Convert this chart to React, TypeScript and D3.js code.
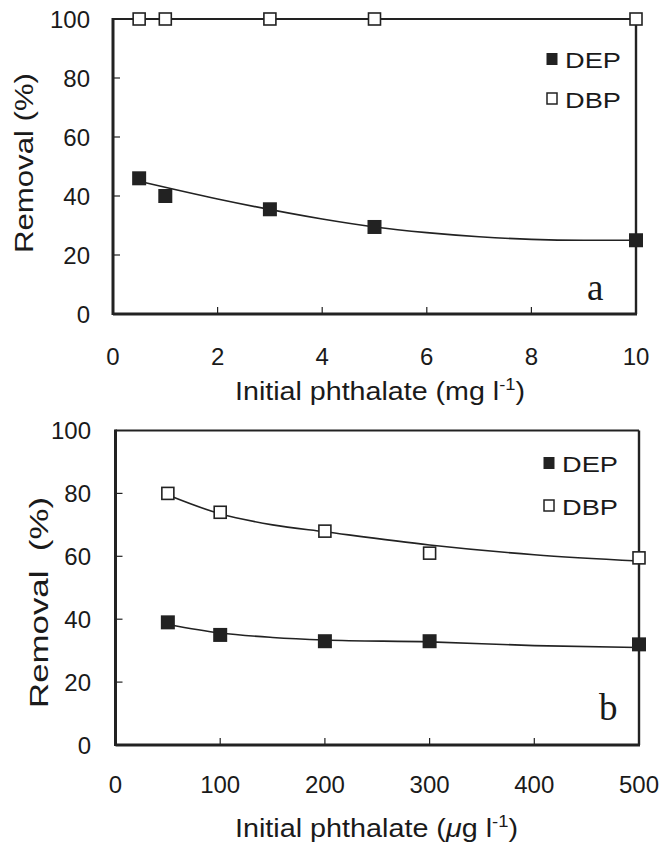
import React from "react";
import * as d3 from "d3";

// Panel a data (mg/l)
const concA = [0.5, 1, 3, 5, 10];
const depA = [46, 40, 35.5, 29.5, 25];
const dbpA = [100, 100, 100, 100, 100];
const depFitA: [number, number][] = [[0.5, 45], [2, 39], [4, 32.2], [5, 29.5], [6, 27.6], [7, 26.2], [8, 25.3], [9, 25], [10, 25]];
const dbpFitA: [number, number][] = [[0.5, 100], [10, 100]];
const xTicksA = [0, 2, 4, 6, 8, 10];

// Panel b data (ug/l)
const concB = [50, 100, 200, 300, 500];
const depB = [39, 35, 33, 33, 32];
const dbpB = [80, 74, 68, 61, 59.5];
const depFitB: [number, number][] = [[50, 38.3], [100, 35.6], [150, 34.2], [200, 33.4], [300, 32.8], [400, 31.6], [500, 31]];
const dbpFitB: [number, number][] = [[50, 79.5], [100, 73.5], [150, 70], [200, 67.8], [300, 63.6], [400, 60.5], [500, 58.5]];
const xTicksB = [0, 100, 200, 300, 400, 500];

const yTicks = [0, 20, 40, 60, 80, 100];
const seriesNames = ["DEP", "DBP"];

const SANS = "'Liberation Sans', Arial, sans-serif";
const SERIF = "'Liberation Serif', 'Times New Roman', serif";

type PanelProps = {
  xDomain: [number, number];
  xRange: [number, number];
  yRange: [number, number];
  xTicks: number[];
  conc: number[];
  dep: number[];
  dbp: number[];
  depFit: [number, number][];
  dbpFit: [number, number][];
  yLabelX: number;
  xLabelY: number;
  xTitle: [number, number, number];
  yTitle: [number, number, number];
  yTitleText: string;
  unit: string;
  letter: string;
  letterPos: [number, number];
  legendPos: [number, number];
  legendGap: number;
};

function Panel(p: PanelProps) {
  const x = d3.scaleLinear().domain(p.xDomain).range(p.xRange);
  const y = d3.scaleLinear().domain([0, 100]).range(p.yRange);
  const line = d3
    .line<[number, number]>()
    .x((d) => x(d[0]))
    .y((d) => y(d[1]))
    .curve(d3.curveMonotoneX);
  const [x0, x1] = p.xRange;
  const [yb, yt] = p.yRange;
  const tickLen = 7;
  const fs = 24;
  const fill = "#1a1a1a";
  const [lx, ly] = p.legendPos;
  return (
    <g>
      <path d={line(p.depFit) || ""} fill="none" stroke="#222" strokeWidth={1.6} />
      <path d={line(p.dbpFit) || ""} fill="none" stroke="#222" strokeWidth={1.6} />
      <line x1={x0} x2={x1} y1={yt} y2={yt} stroke="#222" strokeWidth={2.2} />
      <line x1={x1} x2={x1} y1={yt} y2={yb} stroke="#222" strokeWidth={2.4} />
      <line x1={x0} x2={x1 + 1} y1={yb} y2={yb} stroke="#222" strokeWidth={2.8} />
      <line x1={x0} x2={x0} y1={yt - 1} y2={yb + 1} stroke="#222" strokeWidth={3} />
      {yTicks.map((t) => (
        <g key={"y" + t}>
          {t > 0 && t < 100 && (
            <line x1={x0} x2={x0 + tickLen} y1={y(t)} y2={y(t)} stroke="#222" strokeWidth={1.2} />
          )}
          <text x={p.yLabelX} y={y(t) + 8.5} textAnchor="end" fontFamily={SANS} fontSize={fs} fill={fill}>
            {t}
          </text>
        </g>
      ))}
      {p.xTicks.map((t) => (
        <g key={"x" + t}>
          {t > p.xDomain[0] && t < p.xDomain[1] && (
            <line x1={x(t)} x2={x(t)} y1={yb} y2={yb - tickLen} stroke="#222" strokeWidth={1.2} />
          )}
          <text x={x(t)} y={p.xLabelY} textAnchor="middle" fontFamily={SANS} fontSize={fs} fill={fill}>
            {t}
          </text>
        </g>
      ))}
      {p.conc.map((c, i) => (
        <rect key={"dep" + i} x={x(c) - 7} y={y(p.dep[i]) - 7} width={14} height={14} fill="#222" />
      ))}
      {p.conc.map((c, i) => (
        <rect key={"dbp" + i} x={x(c) - 6} y={y(p.dbp[i]) - 6} width={12} height={12} fill="#fff" stroke="#222" strokeWidth={1.6} />
      ))}
      <rect x={lx - 5.5} y={ly - 6} width={11} height={12} fill="#222" />
      <text x={lx + 13} y={ly + 9} fontFamily={SANS} fontSize={22} fill={fill} textLength={56} lengthAdjust="spacingAndGlyphs">
        {seriesNames[0]}
      </text>
      <rect x={lx - 5} y={ly + p.legendGap - 5} width={10} height={11} fill="#fff" stroke="#222" strokeWidth={1.5} />
      <text x={lx + 13} y={ly + p.legendGap + 10} fontFamily={SANS} fontSize={22} fill={fill} textLength={56} lengthAdjust="spacingAndGlyphs">
        {seriesNames[1]}
      </text>
      <text x={p.letterPos[0]} y={p.letterPos[1]} fontFamily={SERIF} fontSize={37} fill={fill}>
        {p.letter}
      </text>
      <text
        x={p.xTitle[0]}
        y={p.xTitle[1]}
        fontFamily={SANS}
        fontSize={25}
        fill={fill}
        textLength={p.xTitle[2]}
        lengthAdjust="spacingAndGlyphs"
      >
        {"Initial phthalate ("}
        {p.unit === "ug" ? <tspan fontStyle="italic">μ</tspan> : null}
        {p.unit === "ug" ? "g l" : "mg l"}
        <tspan dy={-10} fontSize={16}>-1</tspan>
        <tspan dy={10}>)</tspan>
      </text>
      <text
        transform={`translate(${p.yTitle[0]},${p.yTitle[1]}) rotate(-90)`}
        fontFamily={SANS}
        fontSize={25}
        fill={fill}
        textLength={p.yTitle[2]}
        lengthAdjust="spacingAndGlyphs"
        style={{ whiteSpace: "pre" }}
      >
        {p.yTitleText}
      </text>
    </g>
  );
}

export default function App() {
  return (
    <svg width={662} height={847} style={{ position: "absolute", left: 0, top: 0, background: "#fff" }}>
      <rect x={0} y={0} width={662} height={847} fill="#fff" />
      <Panel
        xDomain={[0, 10]}
        xRange={[113, 636]}
        yRange={[314, 19]}
        xTicks={xTicksA}
        conc={concA}
        dep={depA}
        dbp={dbpA}
        depFit={depFitA}
        dbpFit={dbpFitA}
        yLabelX={90}
        xLabelY={365}
        xTitle={[235, 400, 290]}
        yTitle={[33, 253, 180]}
        yTitleText="Removal (%)"
        unit="mg"
        letter="a"
        letterPos={[587, 300]}
        legendPos={[552, 59]}
        legendGap={39}
      />
      <Panel
        xDomain={[0, 500]}
        xRange={[115.5, 639]}
        yRange={[745, 430.5]}
        xTicks={xTicksB}
        conc={concB}
        dep={depB}
        dbp={dbpB}
        depFit={depFitB}
        dbpFit={dbpFitB}
        yLabelX={91}
        xLabelY={793}
        xTitle={[235, 837, 283]}
        yTitle={[48, 708, 211]}
        yTitleText="Removal  (%)"
        unit="ug"
        letter="b"
        letterPos={[599, 720]}
        legendPos={[549, 463]}
        legendGap={42}
      />
    </svg>
  );
}
